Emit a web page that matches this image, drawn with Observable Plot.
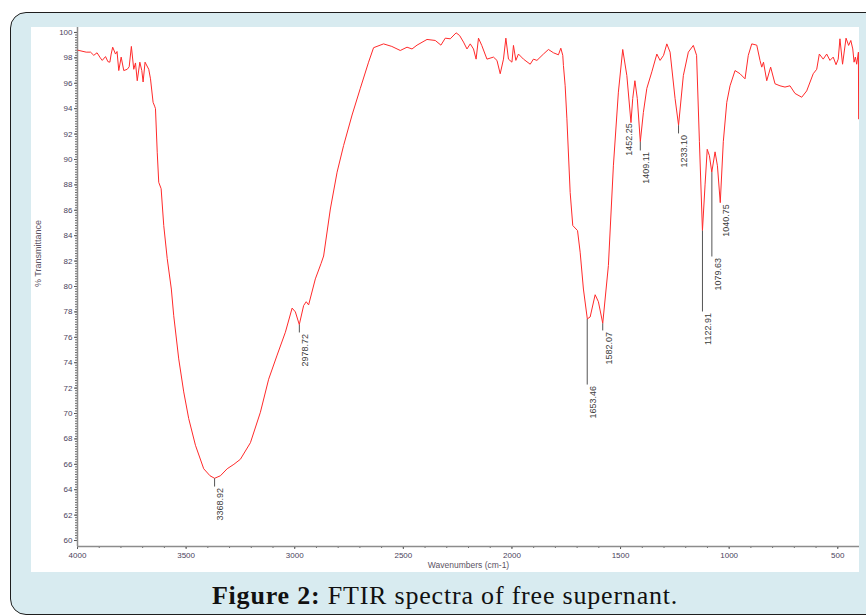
<!DOCTYPE html>
<html><head><meta charset="utf-8">
<script src="https://cdn.jsdelivr.net/npm/d3@7"></script>
<script src="https://cdn.jsdelivr.net/npm/@observablehq/plot@0.6"></script>
<style>
html,body{margin:0;padding:0;background:#fff;}
body{width:866px;height:616px;overflow:hidden;position:relative;font-family:Arial,"Liberation Sans",sans-serif;}
#frame{position:absolute;left:10px;top:12px;width:880px;height:603px;background:#d8ebf0;border:1.8px solid #1e1e1e;border-radius:16px;box-sizing:border-box;}
#panel{position:absolute;left:31px;top:27px;width:828px;height:545px;background:#fff;overflow:hidden;}
#caption{position:absolute;left:0;width:890px;top:581px;line-height:30px;text-align:center;font-family:"Liberation Serif",serif;font-size:26px;letter-spacing:0.8px;color:#111;}
</style>
</head><body>
<div id="frame"></div>
<div id="panel"></div>
<div id="caption"><b>Figure 2:</b> FTIR spectra of free supernant.</div>
<script>
// Spectrum: wavenumber (cm-1) and % transmittance
const wavenumbers = [3998,3960,3940,3925,3910,3895,3886,3871,3860,3851,3845,3838,3825,3818,3810,3799,3787,3771,3762,3752,3741,3733,3725,3713,3704,3698,3689,3672,3664,3652,3645,3641,3633,3626,3615,3603,3587,3568,3557,3534,3511,3488,3457,3419,3390,3369,3342,3311,3280,3250,3204,3158,3120,3081,3043,3012,2997,2979,2959,2947,2936,2905,2879,2867,2836,2805,2775,2736,2698,2660,2637,2591,2553,2514,2483,2460,2437,2391,2353,2327,2307,2284,2257,2241,2223,2207,2192,2177,2165,2154,2139,2115,2085,2069,2054,2039,2028,2016,2000,1993,1982,1970,1947,1916,1901,1885,1855,1832,1809,1786,1775,1766,1763,1755,1747,1732,1720,1698,1686,1671,1653,1640,1617,1602,1582,1556,1533,1510,1490,1471,1452,1444,1434,1423,1409,1395,1379,1356,1333,1318,1302,1287,1272,1249,1233,1211,1188,1165,1150,1137,1123,1111,1101,1091,1080,1065,1054,1041,1027,1011,996,973,950,927,912,896,873,858,850,842,827,809,789,766,743,720,697,666,643,613,597,585,567,551,536,521,508,498,490,478,462,450,440,431,425,419,413,405,404];
const transmittance = [98.6,98.45,98.45,98.2,98.4,98.0,97.8,98.1,97.7,97.66,98.3,98.84,98.3,98.5,97.0,98.06,97.0,97.1,97.3,98.9,97.1,97.6,96.2,97.66,97.0,96.1,97.66,97.1,96.35,94.5,94.2,94.0,90.57,88.2,87.7,84.8,82.2,79.8,77.7,74.3,71.7,69.6,67.5,65.65,65.1,64.9,65.1,65.65,66.0,66.4,67.7,70.1,72.7,74.6,76.4,78.3,78.0,77.0,78.5,78.8,78.55,80.6,81.8,82.4,86.1,89.0,91.1,93.5,95.6,97.66,98.8,99.1,98.9,98.58,98.84,98.7,99.0,99.45,99.37,99.0,99.55,99.5,99.97,99.76,99.24,98.7,99.1,98.7,97.9,99.55,98.98,97.9,98.06,97.8,96.75,97.9,99.55,97.9,97.66,98.98,97.8,98.3,97.9,97.5,97.9,97.8,98.3,98.66,98.4,98.24,98.76,98.2,97.4,95.8,93.2,87.4,84.8,84.4,82.7,79.8,77.45,77.6,79.35,78.8,77.1,81.65,89.5,95.3,98.66,96.6,92.9,94.8,96.2,94.8,91.4,93.7,95.6,96.9,98.3,97.8,98.2,99.1,98.45,94.8,92.7,96.6,98.45,98.98,98.2,91.4,84.4,88.0,90.8,90.3,89.0,90.6,89.5,86.6,91.4,94.5,95.8,97.0,96.75,96.35,98.2,99.1,99.0,97.8,97.27,97.66,96.2,97.27,95.96,95.8,95.7,95.8,95.2,94.9,95.4,96.75,97.1,98.3,97.9,98.3,97.8,98.06,97.46,97.9,99.5,97.5,99.55,98.98,99.37,98.7,97.66,98.06,97.5,98.45,93.2];

// Peak labels: position, curve value, end of leader line
const peakLabels = ["3368.92","2978.72","1653.46","1582.07","1452.25","1409.11","1233.10","1122.91","1079.63","1040.75"];
const peakWn = [3368.92,2978.72,1653.46,1582.07,1452.25,1409.11,1233.10,1122.91,1079.63,1040.75];
const peakT = [64.9,77.0,77.45,77.1,92.9,91.4,92.7,84.4,89.0,86.6];
const peakEnd = [64.25,76.38,72.28,76.54,92.9,90.71,92.05,78.03,82.36,86.6];

// Axis ticks
const xTicks = [4000,3500,3000,2500,2000,1500,1000,500];
const yTicks = [100,98,96,94,92,90,88,86,84,82,80,78,76,74,72,70,68,66,64,62,60];
const xMinor = d3.range(4000, 399, -100);
const yMinor = d3.range(600, 1001, 2).map(v => v / 10);

const spectrum = wavenumbers.map((w, i) => ({w, t: transmittance[i]}));
const peaks = peakLabels.map((s, i) => ({s, w: peakWn[i], t: peakT[i], e: peakEnd[i]}));
const yMin = 59.53, yMax = 100.39;
const tickColor = "#4a3f5c";

const chart = Plot.plot({
  width: 828, height: 545,
  marginLeft: 46, marginRight: 0, marginTop: 0, marginBottom: 26,
  x: {domain: [4000, 400]},
  y: {domain: [yMin, yMax]},
  style: {background: "transparent", fontFamily: "Arial, 'Liberation Sans', sans-serif", fontSize: "8px", color: tickColor, overflow: "visible"},
  marks: [
    Plot.axisX(xMinor, {tickSize: 2, text: null, label: null, stroke: "#666"}),
    Plot.axisX(xTicks, {tickSize: 3, tickPadding: 3, tickFormat: d => String(d), label: null, stroke: "#555", fill: tickColor, fontSize: 8}),
    Plot.axisY(yMinor, {tickSize: 2, text: null, label: null, stroke: "#666"}),
    Plot.axisY(yTicks, {tickSize: 3, tickPadding: 2, tickFormat: d => String(d), label: null, stroke: "#555", fill: tickColor, fontSize: 8}),
    Plot.ruleX([4000], {y1: yMin, y2: yMax, stroke: "#8c8c8c", strokeWidth: 1.5}),
    Plot.ruleY([yMin], {x1: 4000, x2: 400, stroke: "#8c8c8c", strokeWidth: 1.5}),
    Plot.line(spectrum, {x: "w", y: "t", stroke: "#ff2a2a", strokeWidth: 1, strokeLinejoin: "round"}),
    Plot.link(peaks, {x1: "w", x2: "w", y1: "t", y2: "e", stroke: "#555", strokeWidth: 1}),
    Plot.text(peaks.filter(p => p.s !== "1452.25"), {x: "w", y: "e", text: "s", rotate: -90, textAnchor: "end", dx: 6, dy: 1.5, fill: "#3c3c3c", fontSize: 9}),
    Plot.text(peaks.filter(p => p.s === "1452.25"), {x: "w", y: "e", text: "s", rotate: -90, textAnchor: "end", dx: -1.5, dy: 0.5, fill: "#3c3c3c", fontSize: 9}),
    Plot.text(["% Transmittance"], {frameAnchor: "left", dx: -39.5, rotate: -90, fill: "#5b5363", fontSize: 9}),
    Plot.text(["Wavenumbers (cm-1)"], {frameAnchor: "bottom", lineAnchor: "top", dy: 15.5, fill: "#5b5363", fontSize: 8.5})
  ]
});
document.getElementById("panel").appendChild(chart);
</script>
</body></html>
